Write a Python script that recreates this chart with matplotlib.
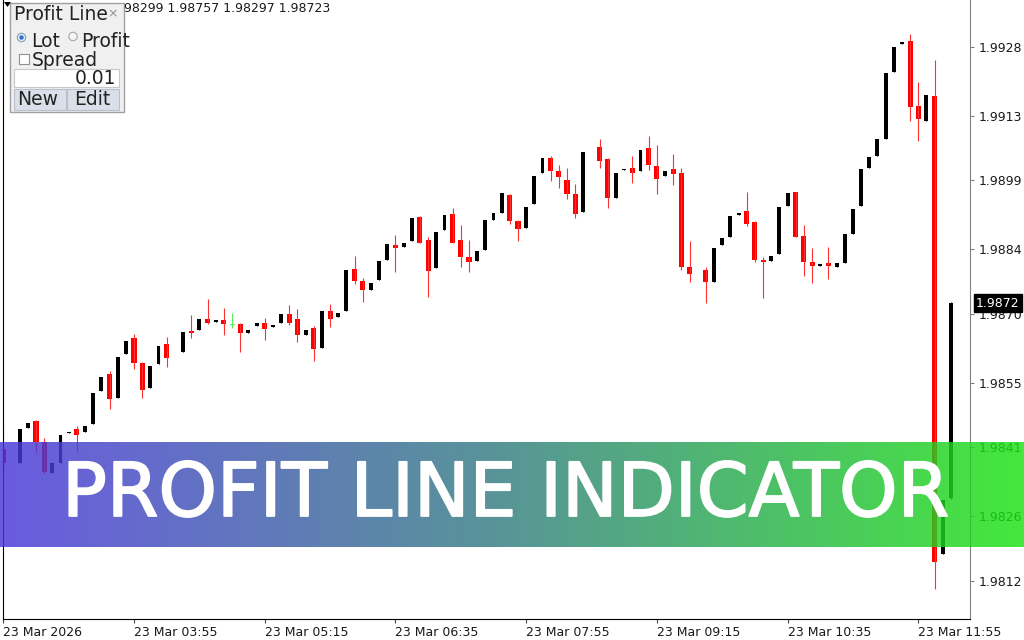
import numpy as np
import matplotlib.pyplot as plt
import matplotlib.patheffects as pe
from matplotlib.patches import Rectangle, Circle, Polygon

nan = np.nan

# 5 minute bars, 23 Mar 02:35 .. 12:15 (nan = bar not drawn)
opens = [1.98406, nan, 1.98376, 1.98452, 1.98467, 1.98422, 1.98354, 1.98376, 1.98440, 1.98449,
         1.98443, 1.98460, 1.98532, 1.98569, 1.98516, 1.98612, 1.98647, 1.98594, 1.98538, 1.98590,
         1.98634, nan, 1.98617, 1.98662, 1.98665, 1.98689, 1.98682, 1.98686, 1.98675, 1.98678,
         1.98658, 1.98674, 1.98681, 1.98672, 1.98681, 1.98699, 1.98689, 1.98653, 1.98670, 1.98625,
         1.98707, 1.98694, 1.98707, 1.98797, 1.98771, 1.98752, 1.98773, 1.98818, 1.98849, 1.98846,
         1.98858, 1.98911, 1.98860, 1.98800, 1.98882, 1.98917, 1.98860, 1.98824, 1.98815, 1.98839,
         1.98904, 1.98920, 1.98958, 1.98902, 1.98887, 1.98939, 1.99007, 1.99039, 1.99011, 1.98991,
         1.98960, 1.98922, nan, 1.99062, 1.99036, 1.98951, 1.99012, 1.99018, 1.99011, 1.99061,
         1.99021, 1.98999, 1.99014, 1.99007, 1.98802, nan, 1.98795, 1.98770, 1.98849, 1.98867,
         1.98914, 1.98924, 1.98900, 1.98818, 1.98815, 1.98830, 1.98934, 1.98964, 1.98869, 1.98813,
         1.98804, 1.98810, 1.98802, 1.98810, 1.98873, 1.98934, 1.99016, 1.99044, 1.99081, 1.99226,
         1.99287, 1.99293, 1.99152, 1.99120, 1.99174, 1.98178, 1.98299]
highs = [1.98454, nan, 1.98449, 1.98463, 1.98469, 1.98430, 1.98376, 1.98436, 1.98444, 1.98457,
         1.98456, 1.98527, 1.98562, 1.98576, 1.98607, 1.98640, 1.98657, 1.98595, 1.98586, 1.98631,
         1.98649, nan, 1.98660, 1.98697, 1.98689, 1.98733, 1.98684, 1.98713, 1.98701, 1.98681,
         1.98665, 1.98681, 1.98691, 1.98675, 1.98699, 1.98720, 1.98710, 1.98665, 1.98673, 1.98707,
         1.98721, 1.98702, 1.98795, 1.98826, 1.98777, 1.98768, 1.98815, 1.98851, 1.98871, 1.98855,
         1.98909, 1.98912, 1.98866, 1.98877, 1.98915, 1.98930, 1.98894, 1.98860, 1.98837, 1.98904,
         1.98920, 1.98962, 1.98960, 1.98905, 1.98933, 1.98999, 1.99039, 1.99043, 1.99023, 1.99018,
         1.98982, 1.99052, nan, 1.99081, 1.99038, 1.99007, 1.99015, 1.99044, 1.99057, 1.99086,
         1.99068, 1.99010, 1.99047, 1.99017, 1.98858, nan, 1.98802, 1.98844, 1.98864, 1.98912,
         1.98920, 1.98964, 1.98902, 1.98824, 1.98826, 1.98933, 1.98963, 1.98965, 1.98893, 1.98842,
         1.98807, 1.98846, 1.98810, 1.98873, 1.98927, 1.99014, 1.99041, 1.99079, 1.99224, 1.99280,
         1.99290, 1.99308, 1.99203, 1.99176, 1.99252, 1.98295, 1.98725]
lows = [1.98356, nan, 1.98376, 1.98452, 1.98400, 1.98352, 1.98354, 1.98376, 1.98440, 1.98399,
        1.98443, 1.98460, 1.98532, 1.98492, 1.98516, 1.98612, 1.98579, 1.98516, 1.98538, 1.98590,
        1.98585, nan, 1.98617, 1.98647, 1.98665, 1.98677, 1.98682, 1.98654, 1.98670, 1.98617,
        1.98658, 1.98674, 1.98643, 1.98672, 1.98681, 1.98675, 1.98639, 1.98653, 1.98598, 1.98625,
        1.98672, 1.98694, 1.98707, 1.98764, 1.98726, 1.98752, 1.98773, 1.98818, 1.98791, 1.98846,
        1.98858, 1.98855, 1.98737, 1.98800, 1.98882, 1.98855, 1.98802, 1.98791, 1.98815, 1.98839,
        1.98904, 1.98920, 1.98895, 1.98858, 1.98887, 1.98939, 1.99007, 1.98989, 1.98974, 1.98949,
        1.98909, 1.98922, nan, 1.99016, 1.98929, 1.98951, 1.99012, 1.98984, 1.99011, 1.99012,
        1.98960, 1.98999, 1.98981, 1.98795, 1.98770, nan, 1.98723, 1.98770, 1.98849, 1.98867,
        1.98914, 1.98891, 1.98813, 1.98734, 1.98815, 1.98830, 1.98934, 1.98866, 1.98783, 1.98766,
        1.98804, 1.98775, 1.98802, 1.98810, 1.98873, 1.98934, 1.99016, 1.99044, 1.99081, 1.99226,
        1.99287, 1.99120, 1.99076, 1.99120, 1.98101, 1.98178, 1.98297]
closes = [1.98376, nan, 1.98449, 1.98463, 1.98422, 1.98357, 1.98376, 1.98436, 1.98444, 1.98436,
          1.98456, 1.98527, 1.98562, 1.98515, 1.98607, 1.98640, 1.98594, 1.98534, 1.98586, 1.98631,
          1.98603, nan, 1.98660, 1.98659, 1.98689, 1.98679, 1.98684, 1.98678, 1.98675, 1.98659,
          1.98665, 1.98681, 1.98668, 1.98675, 1.98699, 1.98681, 1.98654, 1.98665, 1.98623, 1.98707,
          1.98688, 1.98702, 1.98795, 1.98772, 1.98752, 1.98768, 1.98815, 1.98851, 1.98842, 1.98855,
          1.98909, 1.98855, 1.98794, 1.98877, 1.98915, 1.98855, 1.98824, 1.98813, 1.98837, 1.98904,
          1.98920, 1.98962, 1.98902, 1.98884, 1.98933, 1.98999, 1.99039, 1.99011, 1.98998, 1.98960,
          1.98918, 1.99052, nan, 1.99033, 1.98951, 1.99007, 1.99015, 1.99007, 1.99057, 1.99023,
          1.98994, 1.99010, 1.99003, 1.98802, 1.98786, nan, 1.98770, 1.98844, 1.98864, 1.98912,
          1.98920, 1.98895, 1.98817, 1.98813, 1.98826, 1.98933, 1.98963, 1.98867, 1.98812, 1.98804,
          1.98807, 1.98804, 1.98810, 1.98873, 1.98927, 1.99014, 1.99041, 1.99079, 1.99224, 1.99280,
          1.99290, 1.99150, 1.99123, 1.99176, 1.98161, 1.98295, 1.98723]

time_tick_bars = [0, 16, 32, 48, 64, 80, 96, 112]
time_tick_labels = ["23 Mar 2026", "23 Mar 03:55", "23 Mar 05:15", "23 Mar 06:35",
                    "23 Mar 07:55", "23 Mar 09:15", "23 Mar 10:35", "23 Mar 11:55"]
price_ticks = [1.9812, 1.9826, 1.9841, 1.9855, 1.9870, 1.9884, 1.9899, 1.9913, 1.9928]
# only the part of the OHLC line that shows beside the panel
ohlc_visible = "98299 1.98757 1.98297 1.98723"

#%% figure + chart area
fig = plt.figure(figsize=(10.24, 6.4), dpi=100)
ax = fig.add_axes([2.5 / 1024, 21 / 640, 967.5 / 1024, 619 / 640])

o = np.array(opens)
h = np.array(highs)
l = np.array(lows)
c = np.array(closes)
x = np.arange(len(o))
up = c > o
down = c < o
doji = c == o
min_body = 1.6 / 46000

# wicks
ax.vlines(x[down], l[down], h[down], color="#ff3030", lw=0.8)
ax.vlines(x[up], l[up], h[up], color="black", lw=0.8)
ax.vlines(x[doji], l[doji], h[doji], color="#55ee55", lw=0.8)
# bodies
ax.bar(x[down], np.maximum(o[down] - c[down], min_body), bottom=c[down],
       width=0.62, color="red", linewidth=0)
ax.bar(x[up], np.maximum(c[up] - o[up], min_body), bottom=o[up],
       width=0.48, color="black", linewidth=0)
ax.bar(x[doji], min_body, bottom=o[doji], width=0.62, color="#55ee55", linewidth=0)

ax.set_xlim(-0.1, 118.33)
ax.set_ylim(1.980365, 1.993822)

ax.spines["top"].set_visible(False)
ax.spines["left"].set_color("black")
ax.spines["bottom"].set_color("black")
ax.spines["right"].set_color("#808080")

ax.set_xticks(time_tick_bars)
ax.set_xticklabels(time_tick_labels, ha="left")
ax.tick_params(axis="x", length=3, color="#444444", pad=2, labelsize=9, labelcolor="#1a1a1a")

ax.yaxis.tick_right()
ax.set_yticks(price_ticks)
ax.set_yticklabels([f"{p:.4f}" for p in price_ticks])
ax.tick_params(axis="y", length=3, color="#808080", pad=3, labelsize=9, labelcolor="#1a1a1a")

# current price marker
ax.annotate(f"{closes[-1]:.4f}", xy=(1, closes[-1]), xycoords=("axes fraction", "data"),
            xytext=(6, 0), textcoords="offset pixels", va="center", ha="left",
            fontsize=9, color="white", annotation_clip=False,
            bbox=dict(boxstyle="square,pad=0.2", fc="black", ec="black"))

#%% overlay in pixel coordinates (banner + panel)
ov = fig.add_axes([0, 0, 1, 1], zorder=5)
ov.patch.set_alpha(0)
ov.axis("off")

# gradient banner
stops = np.array([[73, 54, 218], [51, 127, 127], [27, 227, 17]]) / 255
t = np.linspace(0, 1, 512)
grad = np.stack([np.interp(t, [0, 0.5, 1], stops[:, k]) for k in range(3)], axis=-1)[None, :, :]
ov.imshow(grad, extent=(0, 1024, 547, 442), aspect="auto", alpha=0.82, interpolation="bilinear")
ov.text(505, 516, "PROFIT LINE INDICATOR", fontsize=53.5, color="white",
        ha="center", va="baseline", family="DejaVu Sans",
        path_effects=[pe.withStroke(linewidth=1.3, foreground="white")])

ov.text(124, 12, ohlc_visible, fontsize=9, color="#1a1a1a", ha="left", va="baseline")

# Profit Line panel
fs = 13.5
ov.add_patch(Rectangle((9.5, 2.5), 114, 109.5, fc="#f0f0f0", ec="#a0a0a0", lw=1))
ov.add_patch(Polygon([(4, 2), (11, 2), (7.5, 7)], closed=True, fc="black"))
ov.text(14, 20, "Profit Line", fontsize=fs, color="#222222", va="baseline")
ov.text(113, 17, "\u00d7", fontsize=9, color="#909090", ha="center", va="baseline")
ov.add_patch(Circle((21.5, 37.5), 4.2, fc="#e8eef5", ec="#8aa0b8", lw=0.8))
ov.add_patch(Circle((21.5, 37.5), 2.2, fc="#2a6fd1", ec="none"))
ov.text(31, 47, "Lot", fontsize=fs, color="#222222", va="baseline")
ov.add_patch(Circle((73, 36.5), 4.2, fc="#f4f4f4", ec="#a8a8a8", lw=0.8))
ov.text(81, 47, "Profit", fontsize=fs, color="#222222", va="baseline")
ov.add_patch(Rectangle((18.5, 53.5), 10, 10, fc="white", ec="#909090", lw=0.8))
ov.text(32, 66, "Spread", fontsize=fs, color="#222222", va="baseline")
ov.add_patch(Rectangle((13.5, 68.5), 105, 18, fc="white", ec="#c8c8c8", lw=0.8))
ov.text(116, 84, "0.01", fontsize=fs, color="#222222", ha="right", va="baseline")
ov.add_patch(Rectangle((13.5, 88.5), 52, 21, fc="#d9e0ea", ec="#b8c0cc", lw=0.8))
ov.add_patch(Rectangle((66.5, 88.5), 52, 21, fc="#d9e0ea", ec="#b8c0cc", lw=0.8))
ov.text(38, 105, "New", fontsize=fs, color="#222222", ha="center", va="baseline")
ov.text(92, 105, "Edit", fontsize=fs, color="#222222", ha="center", va="baseline")

ov.set_xlim(0, 1024)
ov.set_ylim(640, 0)

fig.savefig("out.png", dpi=100)
